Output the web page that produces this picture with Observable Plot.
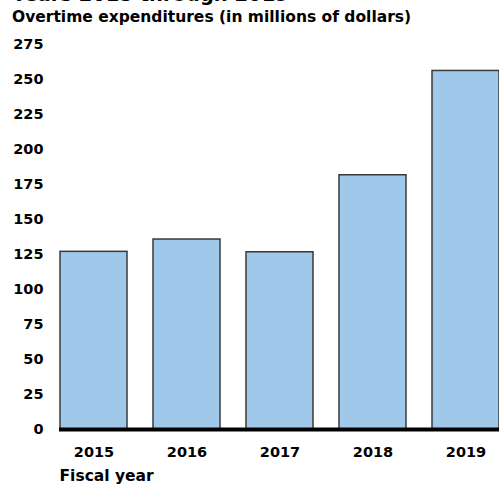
<!DOCTYPE html>
<html>
<head>
<meta charset="utf-8">
<script src="https://cdn.jsdelivr.net/npm/d3@7"></script>
<script src="https://cdn.jsdelivr.net/npm/@observablehq/plot@0.6"></script>
<style>
  html, body { margin: 0; padding: 0; background: white; }
  #wrap { position: relative; width: 499px; height: 485px; overflow: hidden; font-family: "DejaVu Sans", sans-serif; }
  #title { position: absolute; left: 12px; top: -15px; font-size: 19.5px; line-height: 19.5px; font-weight: bold; color: #000; white-space: nowrap; }
  #subtitle { position: absolute; left: 12px; top: 10px; font-size: 15.5px; line-height: 15.5px; font-weight: bold; color: #000; white-space: nowrap; }
  #chart { position: absolute; left: 0; top: 30px; }
</style>
</head>
<body>
<div id="wrap">
  <div id="title">Years 2015 through 2019</div>
  <div id="subtitle">Overtime expenditures (in millions of dollars)</div>
  <div id="chart"></div>
</div>
<script>
const years = ["2015", "2016", "2017", "2018", "2019"];
const overtime = [126.9, 135.7, 126.6, 181.6, 256.1];
const yTicks = [0, 25, 50, 75, 100, 125, 150, 175, 200, 225, 250, 275];
const xLabel = "Fiscal year";

const data = years.map((y, i) => ({year: y, value: overtime[i]}));

const font = "'DejaVu Sans', sans-serif";
const chart = Plot.plot({
  width: 499,
  height: 455,
  marginLeft: 59,
  marginRight: 0,
  marginTop: 14,
  marginBottom: 56,
  style: {fontFamily: font, fontSize: "14.5px", fontWeight: "bold", color: "#000", background: "white"},
  x: {domain: years, range: [33.7, 526.5], padding: 0.276, align: 0.5},
  y: {domain: [0, 275]},
  marks: [
    Plot.barY(data, {x: "year", y: "value", fill: "#a0c8ea", stroke: "#3a3a3a", strokeWidth: 1.5}),
    Plot.ruleY([0], {stroke: "#000", strokeWidth: 4}),
    Plot.axisY(yTicks, {tickSize: 0, tickPadding: 16, label: null, fill: "#000", fontWeight: "bold", fontSize: 14.5}),
    Plot.axisX({tickSize: 0, tickPadding: 17, label: null, fill: "#000", fontWeight: "bold", fontSize: 14.5}),
    Plot.text([xLabel], {frameAnchor: "bottom-left", dy: 47, textAnchor: "start", lineAnchor: "middle", fill: "#000", fontWeight: "bold", fontSize: 15.5})
  ]
});
document.getElementById("chart").appendChild(chart);
</script>
</body>
</html>
